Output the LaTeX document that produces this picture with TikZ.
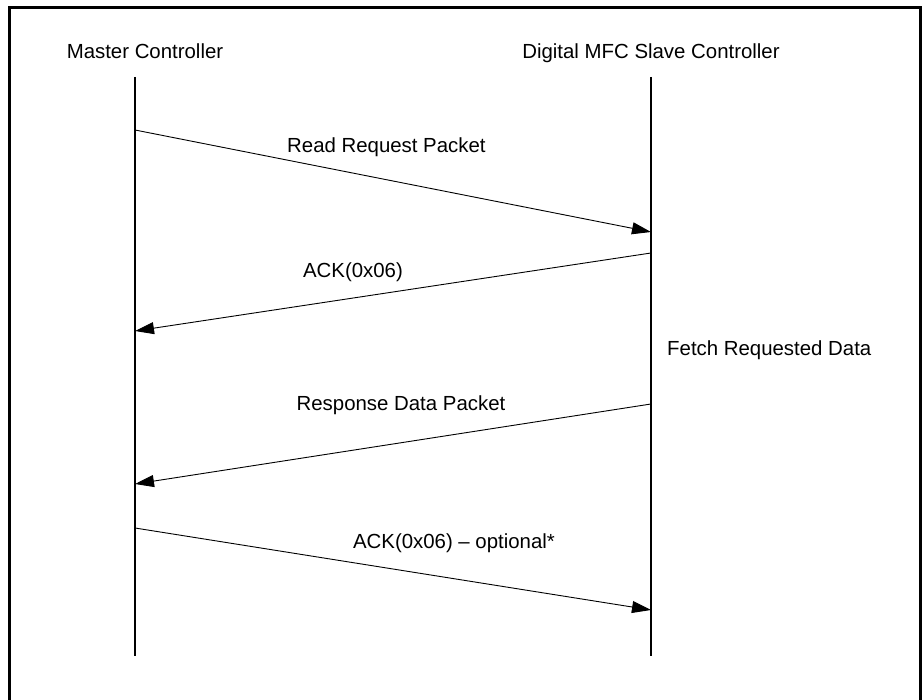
\documentclass[tikz,border=0pt]{standalone}
\usepackage{fontspec}
\setmainfont{Liberation Sans}
\usetikzlibrary{arrows.meta}
\begin{document}
\begin{tikzpicture}[x=1pt,y=-1pt,
  lbl/.style={font=\fontsize{20.4}{24}\selectfont, inner sep=0pt},
  life/.style={line width=1.4pt},
  msg/.style={line width=0.9pt, -{Triangle[length=19pt,width=12pt]}},
  frame/.style={line width=3pt}]
\useasboundingbox (0,0) rectangle (922,700);
\draw[frame] (9.5,7.5) rectangle (920.5,720);
% headers
\node[lbl] (mc) at (145,51) {Master Controller};
\node[lbl] (sc) at (651,53) {Digital MFC Slave Controller};
% lifelines
\coordinate (mtop) at (135,77);
\coordinate (mbot) at (135,656);
\coordinate (stop) at (651,77);
\coordinate (sbot) at (651,656);
\draw[life] (mtop) -- (mbot);
\draw[life] (stop) -- (sbot);
% message endpoints
\coordinate (m1a) at (135,130);
\coordinate (m1b) at (651,232);
\coordinate (m2a) at (651,253);
\coordinate (m2b) at (135,331);
\coordinate (m3a) at (651,404);
\coordinate (m3b) at (135,484);
\coordinate (m4a) at (135,528);
\coordinate (m4b) at (651,610);
\draw[msg] (m1a) -- (m1b);
\draw[msg] (m2a) -- (m2b);
\draw[msg] (m3a) -- (m3b);
\draw[msg] (m4a) -- (m4b);
% labels
\node[lbl, anchor=base west] (l1) at (287,152.6) {Read Request Packet};
\node[lbl] (l2) at (353,272) {ACK(0x06)};
\node[lbl, anchor=west] (l3) at (667,350) {Fetch Requested Data};
\node[lbl] (l4) at (401,405) {Response Data Packet};
\node[lbl] (l5) at (454,543) {ACK(0x06) – optional*};
\end{tikzpicture}
\end{document}
